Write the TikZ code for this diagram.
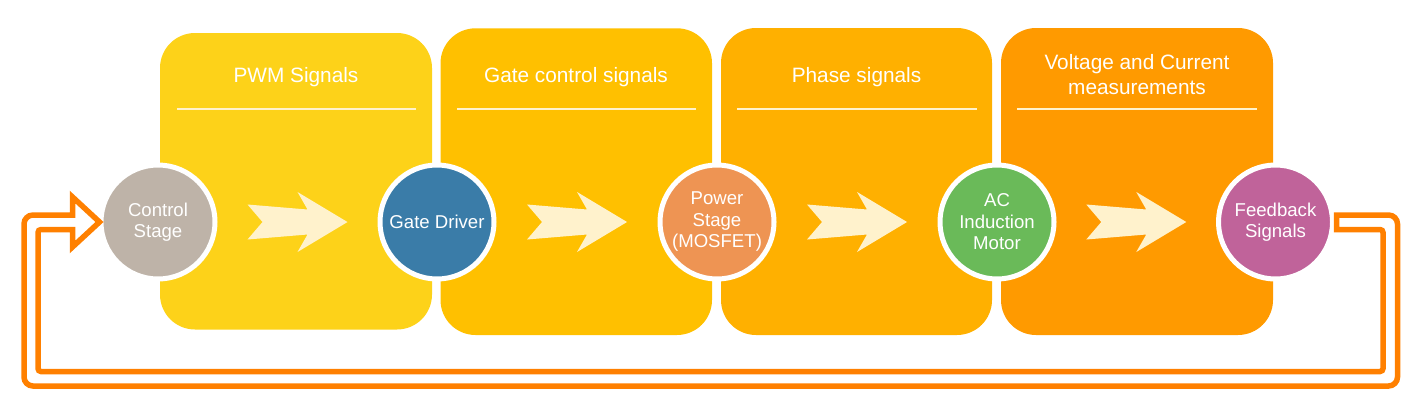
\documentclass[tikz,border=0pt]{standalone}
\usepackage{fontspec}
\setmainfont{Liberation Sans}
\usetikzlibrary{calc}

\definecolor{pwmcol}{HTML}{FDD219}
\definecolor{gatecol}{HTML}{FFC000}
\definecolor{phasecol}{HTML}{FFB000}
\definecolor{meascol}{HTML}{FF9A00}
\definecolor{ctrlcol}{HTML}{BEB3A8}
\definecolor{drivercol}{HTML}{3A7CA8}
\definecolor{powercol}{HTML}{EE9453}
\definecolor{motorcol}{HTML}{6ABA59}
\definecolor{fbcol}{HTML}{C0639A}
\definecolor{chevcol}{HTML}{FFF2CC}
\definecolor{loopcol}{HTML}{FF8000}

\tikzset{
    paneltitle/.style={text=white, font=\fontsize{20.8}{25}\selectfont, align=center},
    titlerule/.style={draw=chevcol, line width=2},
    station/.style={circle, draw=white, line width=5, minimum size=114, inner sep=0,
        text=white, align=center, font=\fontsize{18.6}{21.5}\selectfont},
    loopline/.style={draw=loopcol, fill=white, line width=5.5, line join=miter},
    pics/chevron/.style={code={
        \fill[chevcol] (50,0) -- (0,-30) -- (10,-12.5) -- (-50,-17.5) -- (-35,0)
            -- (-50,17.5) -- (10,12.5) -- (0,30) -- cycle;
    }}
}

\begin{document}
\begin{tikzpicture}[x=1pt, y=-1pt]
    \useasboundingbox (0,0) rectangle (1421,410);
    % stage panels
    \fill[color=pwmcol, rounded corners=35] (160,33) rectangle (432,329.5);
    \fill[color=gatecol, rounded corners=35] (440.5,28.3) rectangle (712,335);
    \fill[color=phasecol, rounded corners=35] (721,28) rectangle (992,335);
    \fill[color=meascol, rounded corners=35] (1001,28) rectangle (1273,335);
    \node[paneltitle] (pwmtitle) at (296,77) {PWM Signals};
    \node[paneltitle] (gatetitle) at (576,77) {Gate control signals};
    \node[paneltitle] (phasetitle) at (856.5,77) {Phase signals};
    \node[paneltitle] (meastitle) at (1137,75) {Voltage and Current\\measurements};
    \draw[titlerule] (177,109) -- (416,109);
    \draw[titlerule] (457,109) -- (696,109);
    \draw[titlerule] (737,109) -- (977,109);
    \draw[titlerule] (1017,109) -- (1257,109);
    % stations
    \node[station, fill=ctrlcol] (ctrl) at (158,222) {Control\\Stage};
    \node[station, fill=drivercol] (driver) at (437,222) {Gate Driver};
    \node[station, fill=powercol] (power) at (717,222) {Power\\Stage\\(MOSFET)};
    \node[station, fill=motorcol] (motor) at (997,222) {AC\\Induction\\Motor};
    \node[station, fill=fbcol] (fb) at (1275.5,222) {Feedback\\Signals};
    \pic at ($(ctrl)!.5!(driver)$) {chevron};
    \pic at ($(driver)!.5!(power)$) {chevron};
    \pic at ($(power)!.5!(motor)$) {chevron};
    \pic at ($(motor)!.5!(fb)$) {chevron};
    % feedback loop back to the control stage
    \draw[loopline] ([shift={(1.5,-7)}]fb.east) [rounded corners=9] -- (1397.5,215)
        -- (1397.5,386) -- (24,386) -- (24,215) [sharp corners] -- (72.5,215)
        -- (72.5,197) -- ([xshift=1]ctrl.west) -- (72.5,247) -- (72.5,229.5)
        [rounded corners=3] -- (38,229.5) -- (38,371.5) -- (1383,371.5)
        -- (1383,229.5) [sharp corners] -- ([shift={(1.5,7.5)}]fb.east) -- cycle;
\end{tikzpicture}
\end{document}
